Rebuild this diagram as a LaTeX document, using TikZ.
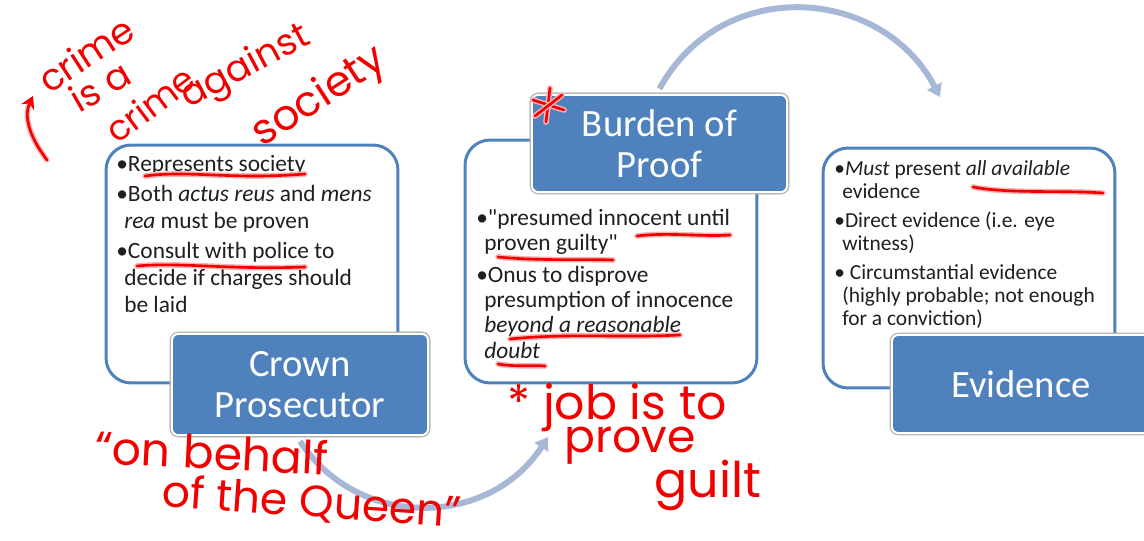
\documentclass[tikz,border=0pt]{standalone}
\usepackage{fontspec}
\setmainfont{Carlito}
\newfontfamily\hand{Poppins}
\usetikzlibrary{arrows.meta}
\definecolor{hdrblue}{HTML}{4F81BD}
\definecolor{arrowblue}{HTML}{A7B8D6}
\definecolor{inkred}{HTML}{F20000}
\begin{document}
\begin{tikzpicture}[x=0.02cm,y=-0.02cm,
  panel/.style={draw=hdrblue, line width=1.7pt, fill=white, rounded corners=0.5cm, minimum width=5.84cm, inner sep=0pt},
  header/.style={fill=hdrblue, draw=white, line width=1.1pt, rounded corners=0.12cm, text=white, align=center, inner sep=0pt,
     font=\fontsize{22}{23.5}\selectfont, preaction={draw=black!28, line width=2.6pt}},
  body/.style={inner sep=0pt, anchor=base west, align=left, text=black!88},
  flow/.style={draw=arrowblue, line width=3.4pt, -{Triangle[length=7pt,width=9pt]}},
  ink/.style={draw=inkred, line width=1.5pt, line cap=round, line join=round,
     preaction={draw=inkred!30, line width=3.2pt, line cap=round, line join=round}},
  hw/.style={text=inkred, inner sep=0pt, font=\hand\fontsize{26}{28}\selectfont}]
\useasboundingbox (0,0) rectangle (1144,541);
\clip (0,0) rectangle (1144,541);

% connectors
\node[header, minimum width=5.12cm, minimum height=2.02cm] (crown) at (300,384.5) {};
\node[header, minimum width=5.10cm, minimum height=1.94cm] (burden) at (659.5,143.5) {};
\coordinate (e1) at (548,437);
\coordinate (e2) at (940,97);
\draw[flow] ([yshift=-3]crown.south) .. controls +(59,90) and +(-58,90) .. (e1);
\draw[flow] ([yshift=3]burden.north) .. controls +(62,-114) and +(-58,-111) .. (e2);

% panels
\node[panel, minimum height=4.76cm] (pl) at (252,264) {};
\node[panel, minimum height=4.86cm] (pm) at (611,261.5) {};
\node[panel, minimum height=4.80cm] (pr) at (969,268) {};

% header boxes
\node[header, minimum width=5.12cm, minimum height=2.02cm] (crownh) at (300,384.5) {Crown\\Prosecutor};
\node[header, minimum width=5.10cm, minimum height=1.94cm] (burdenh) at (659.5,143.5) {Burden of\\Proof};
\node[header, minimum width=5.16cm, minimum height=1.96cm] (evid) at (1021,384) {Evidence};

% body texts (anchor: baseline of the last line)
\node[body, font=\fontsize{13.3}{15.3}\selectfont] (tl) at (116,312) {%
\textbullet Represents society\\[1.7pt]
\textbullet Both \textit{actus reus} and \textit{mens}\\
\hspace*{4.5pt}\textit{rea} must be proven\\[1.7pt]
\textbullet Consult with police to\\
\hspace*{4.5pt}decide if charges should\\
\hspace*{4.5pt}be laid};

\node[body, font=\fontsize{13.3}{14.3}\selectfont] (tm) at (476,358) {%
\textbullet\textquotedbl presumed innocent until\\
\hspace*{4.5pt}proven guilty\textquotedbl\\[3.8pt]
\textbullet Onus to disprove\\
\hspace*{4.5pt}presumption of innocence\\
\hspace*{4.5pt}\textit{beyond a reasonable}\\
\hspace*{4.5pt}\textit{doubt}};

\node[body, font=\fontsize{12.2}{13}\selectfont] (tr) at (834,325) {%
\textbullet\textit{Must} present \textit{all available}\\
\hspace*{4.5pt}evidence\\[3.5pt]
\textbullet Direct evidence (i.e. eye\\
\hspace*{4.5pt}witness)\\[3.5pt]
\textbullet\ Circumstantial evidence\\
\hspace*{4.5pt}(highly probable; not enough\\
\hspace*{4.5pt}for a conviction)};

% red ink underlines
\draw[ink] (145,176) .. controls (190,170) and (230,180) .. (305,174);
\draw[ink] (137,266) .. controls (180,262) and (230,270) .. (305,267);
\draw[ink] (637,236) .. controls (670,232) and (700,237) .. (730,235);
\draw[ink] (498,257) .. controls (540,261) and (580,259) .. (613,260);
\draw[ink] (510,339) .. controls (570,333) and (620,338) .. (680,335);
\draw[ink] (498,364) .. controls (515,367) and (530,365) .. (545,366);
\draw[ink] (973,187) .. controls (1010,194) and (1060,190) .. (1103,193);

% red star on Burden of Proof
\draw[ink] (550,88) -- (546,122);
\draw[ink] (533,100) -- (564,110);
\draw[ink] (535,116) -- (562,95);

% red arrow top-left
\draw[ink, -{Stealth[length=7pt,width=8pt]}] (47,160) .. controls (28,135) and (24,115) .. (33,96);

% handwriting
\node[hw, rotate=33, font=\hand\fontsize{21}{22}\selectfont] (h1) at (86,54) {crime};
\node[hw, rotate=30, font=\hand\fontsize{21}{22}\selectfont] (h2) at (100,86) {is a};
\node[hw, rotate=37, font=\hand\fontsize{20}{24}\selectfont] (h3) at (150,104) {crime};
\node[hw, rotate=28, font=\hand\fontsize{21}{24}\selectfont] (h4) at (246,68) {against};
\node[hw, rotate=33, font=\hand\fontsize{24}{26}\selectfont] (h5) at (320,98) {society};
\node[hw, rotate=-3] (h6) at (212,452) {“on behalf};
\node[hw, rotate=-4, font=\hand\fontsize{25}{26}\selectfont] (h7) at (312,503) {of the Queen”};
\node[hw, font=\hand\fontsize{27}{28}\selectfont] (h8) at (617,408) {* job is to};
\node[hw, font=\hand\fontsize{26}{28}\selectfont] (h9) at (630,446) {prove};
\node[hw, font=\hand\fontsize{28}{28}\selectfont] (h10) at (708,485) {guilt};
\end{tikzpicture}
\end{document}
